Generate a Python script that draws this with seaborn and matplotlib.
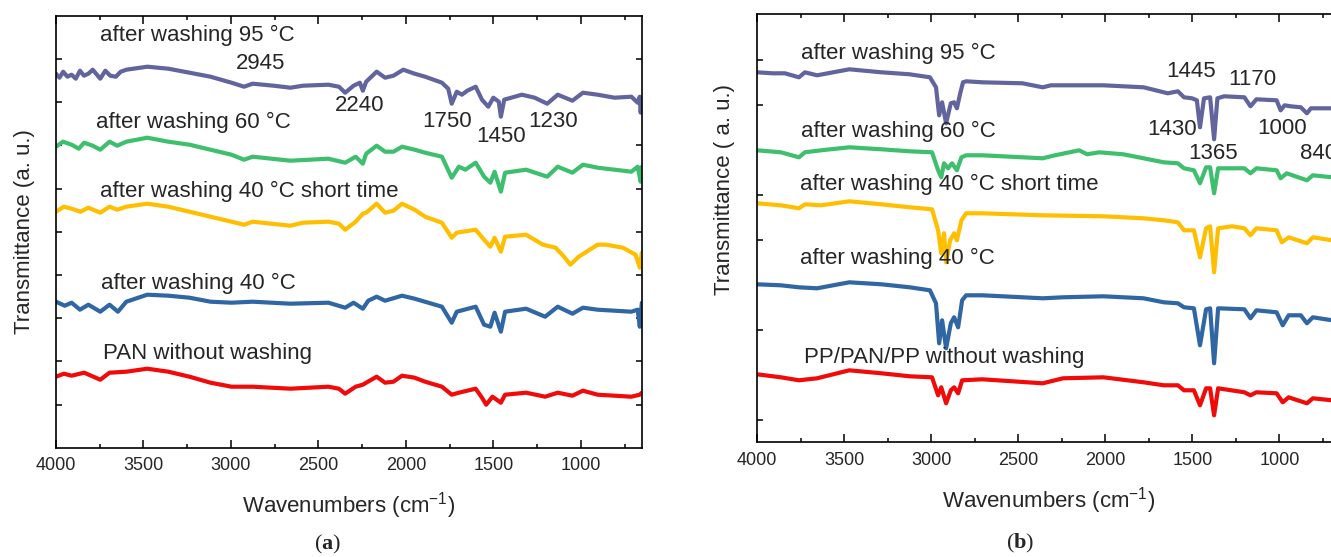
import numpy as np
import pandas as pd
import matplotlib.pyplot as plt
import seaborn as sns
from matplotlib.ticker import MultipleLocator

# ---- panel (a): PAN, wavenumber (cm-1) and transmittance (a.u., offset) ----
wn_a_95 = [4000, 3980, 3959, 3935, 3911, 3887, 3863, 3840, 3815, 3790, 3747, 3718, 3690, 3658, 3630, 3598,
           3478, 3358, 3237, 3117, 2997, 2925, 2876,
           2756, 2660, 2588, 2443, 2383, 2347, 2299, 2263, 2246, 2227, 2167, 2119, 2071, 2015, 1950, 1890,
           1794, 1758, 1738, 1709, 1680, 1649, 1601, 1565, 1529, 1500, 1469, 1457, 1438, 1337, 1264, 1192, 1132,
           1048, 988, 904, 807, 711, 675, 663, 658, 651]
t_a_95 = [374, 370, 376, 371, 373, 369, 377, 372, 374, 378, 369, 377, 372, 371, 376, 378,
          381, 379, 375, 371, 365, 361, 364,
          362, 360, 362, 363, 361, 355, 362, 365, 357, 366, 376, 370, 372, 378, 374, 371,
          365, 359, 344, 356, 353, 357, 361, 348, 341, 350, 346, 331, 348, 353, 350, 344, 353,
          347, 355, 353, 350, 351, 345, 351, 335, 348]

wn_a_60 = [4000, 3960, 3911, 3870, 3839, 3790, 3747, 3694, 3650, 3598, 3478, 3358, 3237, 3117, 2997, 2925, 2876,
           2660, 2443, 2347,
           2287, 2246, 2227, 2167, 2119, 2071, 2022, 1950, 1890, 1794, 1738, 1697, 1660, 1601, 1553, 1517, 1493,
           1457, 1433, 1313, 1192, 1132, 1048, 988, 904, 807, 711, 675, 658, 651]
t_a_60 = [301, 306, 303, 299, 305, 302, 298, 306, 302, 306, 310, 306, 303, 298, 293, 288, 291,
          287, 289, 285,
          291, 284, 294, 302, 296, 296, 301, 298, 295, 291, 270, 281, 278, 285, 271, 265, 276,
          256, 275, 278, 271, 281, 275, 283, 280, 278, 276, 281, 266, 281]

wn_a_40s = [4000, 3955, 3911, 3860, 3815, 3747, 3694, 3650, 3598, 3478, 3358, 3237, 3117, 2997, 2925, 2876,
            2660, 2588, 2443,
            2383, 2347, 2287, 2246, 2227, 2167, 2119, 2071, 2022, 1950, 1890, 1794, 1738, 1709, 1601, 1553,
            1517, 1493, 1457, 1433, 1313, 1216, 1144, 1096, 1060, 1012, 904, 855, 759, 687, 663, 651]
t_a_40s = [236, 241, 239, 236, 240, 235, 241, 238, 241, 244, 241, 236, 231, 226, 223, 226,
           222, 225, 226,
           224, 218, 226, 234, 235, 244, 235, 237, 244, 238, 231, 225, 210, 215, 218, 208,
           201, 210, 196, 211, 213, 203, 200, 191, 183, 191, 203, 203, 200, 193, 180, 195]

wn_a_40 = [4000, 3950, 3911, 3863, 3815, 3747, 3694, 3646, 3598, 3478, 3358, 3237, 3117, 2997, 2876, 2660,
           2443, 2347, 2299, 2246, 2215, 2167, 2119, 2022, 1950, 1794, 1738, 1709, 1601, 1553, 1517, 1493,
           1457, 1433, 1313, 1204, 1132, 1048, 988, 904, 807, 711, 675, 663, 651]
t_a_40 = [146, 142, 145, 138, 143, 136, 143, 136, 146, 153, 152, 150, 146, 145, 146, 144,
          145, 140, 145, 139, 147, 151, 147, 152, 149, 141, 125, 136, 141, 123, 121, 135,
          116, 136, 139, 131, 141, 134, 140, 138, 137, 136, 138, 121, 145]

wn_a_raw = [4000, 3955, 3911, 3839, 3747, 3694, 3598, 3478, 3358, 3237, 3117, 2997, 2876, 2660, 2443, 2383,
            2347, 2287, 2246, 2227, 2167, 2119, 2071, 2022, 1950, 1890, 1794, 1738, 1697, 1601, 1565, 1541,
            1505, 1457, 1433, 1313, 1204, 1132, 1048, 988, 904, 807, 711, 663, 651]
t_a_raw = [71, 74, 72, 75, 68, 75, 76, 79, 76, 71, 65, 61, 61, 59, 61, 59,
           54, 61, 63, 65, 71, 65, 66, 72, 70, 66, 61, 53, 55, 59, 50, 43,
           51, 45, 53, 55, 51, 55, 52, 57, 53, 52, 51, 53, 55]

# ---- panel (b): PP/PAN/PP ----
wn_b_95 = [4000, 3910, 3840, 3759, 3725, 3655, 3470, 3285, 3123, 3007, 2972, 2954, 2937, 2914, 2887, 2868,
           2852, 2833, 2817, 2799, 2706, 2475, 2359, 2312, 2127, 2011, 1896, 1780, 1687, 1641, 1583, 1548,
           1502, 1474, 1456, 1433, 1398, 1375, 1356, 1317, 1201, 1166, 1132, 1016, 993, 970, 935, 877,
           842, 819, 697, 650]
t_b_95 = [370, 369, 369, 365, 370, 367, 373, 370, 368, 365, 355, 327, 340, 319, 339, 340,
          334, 349, 360, 361, 360, 359, 355, 357, 357, 357, 356, 355, 351, 349, 351, 345,
          344, 342, 315, 344, 345, 303, 344, 346, 345, 336, 343, 342, 332, 337, 336, 335,
          329, 334, 334, 334]

wn_b_60 = [4000, 3863, 3759, 3725, 3632, 3470, 3285, 3123, 2995, 2960, 2942, 2926, 2903, 2880, 2852, 2826,
           2799, 2706, 2359, 2289, 2150, 2104, 2035, 1896, 1780, 1664, 1583, 1548, 1491, 1456, 1421, 1398,
           1375, 1352, 1201, 1166, 1132, 1016, 993, 958, 842, 808, 697, 650]
t_b_60 = [292, 290, 285, 290, 292, 295, 293, 291, 290, 272, 265, 279, 274, 279, 272, 285,
          287, 287, 284, 287, 292, 288, 290, 288, 284, 280, 279, 274, 272, 259, 275, 275,
          249, 274, 274, 269, 274, 272, 264, 269, 262, 267, 265, 265]

wn_b_40s = [4000, 3863, 3759, 3725, 3632, 3470, 3285, 3123, 2995, 2960, 2942, 2926, 2914, 2891, 2868, 2852,
            2826, 2799, 2706, 2359, 2011, 1780, 1664, 1583, 1548, 1491, 1456, 1421, 1398, 1375, 1352, 1271,
            1201, 1166, 1132, 1016, 986, 947, 842, 808, 697, 650]
t_b_40s = [239, 237, 234, 238, 237, 241, 238, 235, 233, 212, 189, 209, 180, 202, 209, 202,
           222, 229, 229, 227, 226, 224, 222, 220, 212, 212, 185, 214, 216, 170, 214, 216,
           214, 207, 214, 212, 200, 205, 199, 205, 202, 202]

wn_b_40 = [4000, 3863, 3759, 3655, 3470, 3285, 3123, 3007, 2972, 2954, 2937, 2914, 2887, 2868, 2845, 2822,
           2799, 2706, 2359, 2243, 2011, 1780, 1664, 1583, 1548, 1491, 1456, 1421, 1398, 1375, 1352, 1201,
           1166, 1132, 1016, 981, 947, 877, 842, 808, 697, 650]
t_b_40 = [158, 157, 155, 154, 160, 158, 155, 152, 139, 99, 122, 94, 119, 125, 115, 142,
          147, 147, 144, 145, 146, 144, 140, 139, 135, 134, 97, 133, 134, 79, 134, 133,
          124, 132, 130, 117, 127, 127, 119, 125, 122, 122]

wn_b_raw = [4000, 3863, 3759, 3655, 3470, 3285, 3123, 2995, 2960, 2942, 2914, 2887, 2868, 2845, 2822, 2706,
            2359, 2243, 2011, 1780, 1664, 1583, 1548, 1491, 1456, 1421, 1398, 1375, 1352, 1201, 1166, 1132,
            1016, 981, 947, 842, 808, 697, 650]
t_b_raw = [68, 65, 62, 64, 72, 69, 66, 65, 47, 55, 39, 52, 55, 49, 62, 63,
           59, 64, 65, 60, 57, 57, 52, 52, 37, 54, 54, 27, 54, 50, 47, 50,
           49, 40, 45, 39, 44, 42, 42]

series = ['95', '60', '40s', '40', 'raw']
colors = {'95': '#62649e', '60': '#3dbf6d', '40s': '#ffbf00', '40': '#2f66a3', 'raw': '#f00a0a'}

labels_a = ['after washing 95 °C', 'after washing 60 °C', 'after washing 40 °C short time',
            'after washing 40 °C', 'PAN without washing']
labels_b = ['after washing 95 °C', 'after washing 60 °C', 'after washing 40 °C short time',
            'after washing 40 °C', 'PP/PAN/PP without washing']
peaks_a = ['2945', '2240', '1750', '1450', '1230']
peaks_b = ['1445', '1170', '1430', '1000', '1365', '840']


def to_frame(pairs):
    frames = []
    for key, (w, t) in zip(series, pairs):
        frames.append(pd.DataFrame({'wn': w, 't': t, 'sample': key}))
    return pd.concat(frames, ignore_index=True)


df_a = to_frame([(wn_a_95, t_a_95), (wn_a_60, t_a_60), (wn_a_40s, t_a_40s), (wn_a_40, t_a_40), (wn_a_raw, t_a_raw)])
df_b = to_frame([(wn_b_95, t_b_95), (wn_b_60, t_b_60), (wn_b_40s, t_b_40s), (wn_b_40, t_b_40), (wn_b_raw, t_b_raw)])

sns.set_style('ticks')
plt.rcParams['font.family'] = ['Liberation Sans', 'DejaVu Sans']
plt.rcParams['mathtext.fontset'] = 'custom'
plt.rcParams['mathtext.rm'] = 'Liberation Sans'
plt.rcParams['mathtext.bf'] = 'Liberation Serif:bold'

fig = plt.figure(figsize=(13.31, 5.57), dpi=100)
ax_a = fig.add_axes([56 / 1331, (557 - 447.7) / 557, 585.7 / 1331, 432 / 557])
ax_b = fig.add_axes([757 / 1331, (557 - 442.3) / 557, 583 / 1331, 428.6 / 557])

for ax, df in [(ax_a, df_a), (ax_b, df_b)]:
    sns.lineplot(data=df, x='wn', y='t', hue='sample', palette=colors, units='sample',
                 estimator=None, sort=False, legend=False, linewidth=3.0, ax=ax)
    ax.set_xlim(4000, 652)
    ax.xaxis.set_major_locator(MultipleLocator(500))
    ax.xaxis.set_minor_locator(MultipleLocator(250))
    ax.tick_params(axis='both', which='both', direction='in', top=True, right=True,
                   width=1.1, labelsize=13, pad=7, color='black')
    ax.tick_params(axis='x', which='major', length=6)
    ax.tick_params(axis='x', which='minor', length=3)
    ax.tick_params(axis='y', which='major', length=4.5)
    for s in ax.spines.values():
        s.set_linewidth(1.2)
        s.set_color('black')
    ax.set_xlabel('Wavenumbers (cm$^{-1}$)', fontsize=16)

ax_a.set_ylim(0, 432)
ax_a.set_yticks(np.arange(1, 10) * 43.2)
ax_a.set_yticklabels([])
ax_b.set_ylim(0, 428.6)
ax_b.set_yticks(22.6 + np.arange(9) * 45)
ax_b.set_yticklabels([])

ax_a.set_ylabel('Transmittance (a. u.)', fontsize=16)
ax_b.set_ylabel('Transmittance ( a. u.)', fontsize=16)
ax_a.yaxis.set_label_coords(-0.036, 0.50)
ax_b.yaxis.set_label_coords(-0.038, 0.589)
ax_a.xaxis.set_label_coords(0.5, -0.098)
ax_b.xaxis.set_label_coords(0.5, -0.10)

txt = dict(fontsize=16, va='center')
pos_a = [(3749, 412), (3771, 325), (3749, 256), (3743, 164), (3731, 94)]
for (x, y), s in zip(pos_a, labels_a):
    ax_a.text(x, y, s, ha='left', **txt)
for (x, y), s in zip([(2829, 384), (2263, 342), (1762, 326), (1457, 311), (1156, 326)], peaks_a):
    ax_a.text(x, y, s, ha='center', **txt)

pos_b = [(3749, 389), (3749, 311), (3754, 258), (3754, 184), (3731, 85)]
for (x, y), s in zip(pos_b, labels_b):
    ax_b.text(x, y, s, ha='left', **txt)
for (x, y), s in zip([(1506, 371), (1155, 363), (1617, 313), (986, 314), (1379, 289), (882, 289)], peaks_b):
    ax_b.text(x, y, s, ha='left' if s == '840' else 'center', **txt)

fig.text(328 / 1331, 1 - 544 / 557, r'($\mathbf{a}$)', family='Liberation Serif', fontsize=16,
         ha='center', va='center')
fig.text(1020 / 1331, 1 - 543 / 557, r'($\mathbf{b}$)', family='Liberation Serif', fontsize=16,
         ha='center', va='center')

fig.savefig('out.png', dpi=100)
